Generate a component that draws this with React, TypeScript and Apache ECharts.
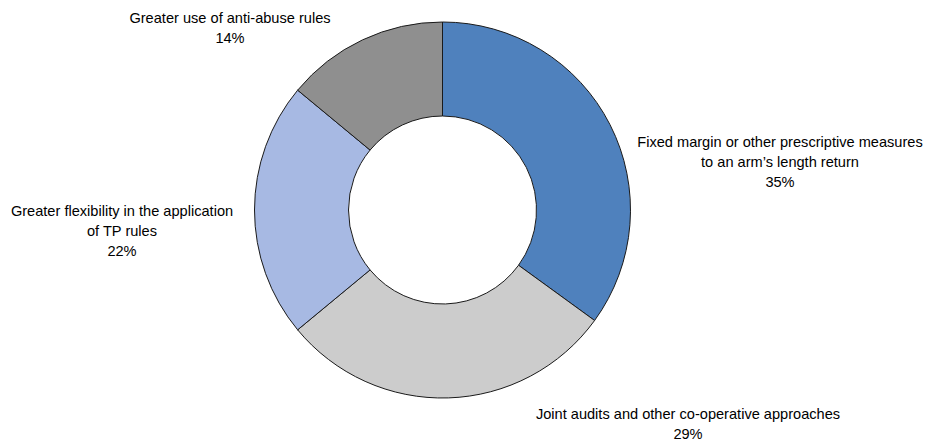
import React, { useEffect, useRef } from "react";
import * as echarts from "echarts";

const categories = [
  "Fixed margin or other prescriptive measures\nto an arm’s length return",
  "Joint audits and other co-operative approaches",
  "Greater flexibility in the application\nof TP rules",
  "Greater use of anti-abuse rules",
];
const values = [35, 29, 22, 14];
const colors = ["#4F81BD", "#CCCCCC", "#A7B9E3", "#8F8F8F"];
// label anchor positions (centre of each text block)
const labelPos: [number, number][] = [
  [780, 162],
  [688, 424],
  [122, 231],
  [230, 28],
];

export default function App() {
  const ref = useRef<HTMLDivElement>(null);
  useEffect(() => {
    document.body.style.margin = "0";
    const chart = echarts.init(ref.current!, undefined, { renderer: "svg" });
    chart.setOption({
      animation: false,
      backgroundColor: "#ffffff",
      series: [
        {
          type: "pie",
          center: [442.5, 210],
          radius: [94, 188],
          startAngle: 90,
          clockwise: true,
          avoidLabelOverlap: false,
          itemStyle: { borderColor: "#1a1a1a", borderWidth: 1 },
          emphasis: { disabled: true },
          label: {
            show: true,
            formatter: "{b}\n{c}%",
            fontFamily: "Liberation Sans, Arial, sans-serif",
            fontSize: 14.6,
            lineHeight: 20,
            color: "#000",
            align: "center",
          },
          labelLine: { show: false },
          labelLayout: (params: any) => {
            const p = labelPos[params.dataIndex];
            return { x: p[0], y: p[1], align: "center", verticalAlign: "middle" };
          },
          data: categories.map((c, i) => ({
            name: c,
            value: values[i],
            itemStyle: { color: colors[i] },
          })),
        },
      ],
    });
    return () => chart.dispose();
  }, []);
  return <div ref={ref} style={{ width: 928, height: 444 }} />;
}
